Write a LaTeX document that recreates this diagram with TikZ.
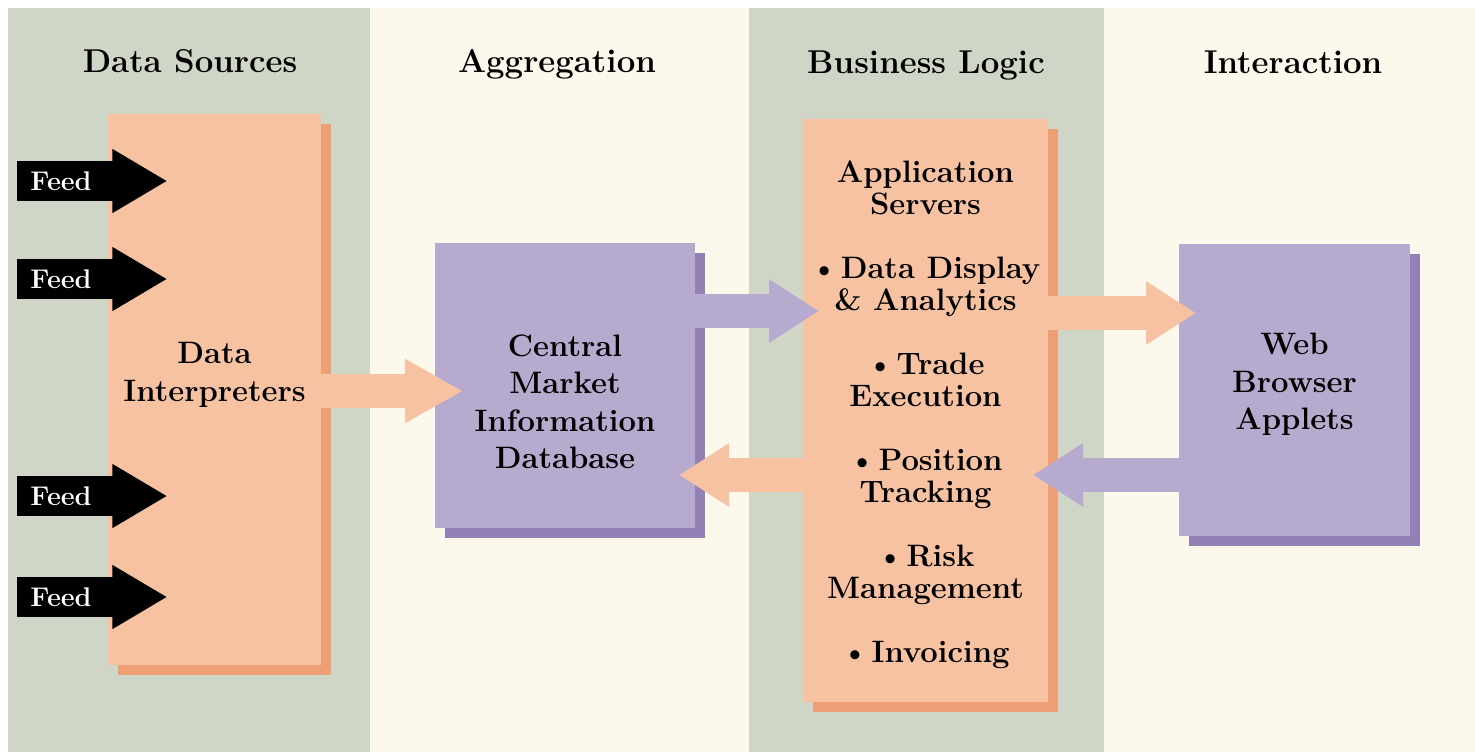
\documentclass[tikz,border=0pt]{standalone}
\usepackage{tikz}
\usetikzlibrary{positioning,calc,shadows}
\usetikzlibrary{arrows.meta}
\definecolor{Sage}{RGB}{207,213,199}
\definecolor{Cream}{RGB}{252,248,236}
\definecolor{Peach}{RGB}{247,194,161}
\definecolor{PeachDark}{RGB}{238,159,118}
\definecolor{Lilac}{RGB}{182,170,206}
\definecolor{LilacDark}{RGB}{147,129,182}
\newcommand\appitem{\textbullet\hspace{1.5pt}}
\tikzset{
	tier/.style={font=\fontsize{16.5}{20}\selectfont\bfseries,anchor=base},
	box/.style={inner sep=0pt,outer sep=0pt,fill=#1,
		drop shadow={shadow xshift=5pt,shadow yshift=-5pt,opacity=1,fill=#1Dark}},
	boxtext/.style={font=\fontsize{15.5}{18.75}\selectfont\bfseries,align=center,
		anchor=north,inner sep=0pt},
	feedtag/.style={fill=black,text=white,inner sep=0pt,minimum width=44pt,
		minimum height=20pt,font=\fontsize{13.5}{16}\selectfont\bfseries},
	feedhead/.style={draw=black,line width=20pt,-{Triangle[length=27.5pt,width=30pt]}},
	flow/.style={draw=#1,line width=17pt,-{Triangle[length=25pt,width=30pt]},shorten >=-8pt},
}

\begin{document}
\begin{tikzpicture}[x=0.5pt,y=-0.5pt]
	\useasboundingbox (0,0) rectangle (1475,752);
	% four tiers
	\foreach \xa/\xb/\c in {8/370/Sage,370/749/Cream,749/1104/Sage,1104/1475/Cream}
	\fill[\c] (\xa,8) rectangle (\xb,752);
	\node[tier] (tsrc) at (190,72) {Data Sources};
	\node[tier] (tagg) at (557,72) {Aggregation};
	\node[tier] (tbiz) at (926,73) {Business Logic};
	\node[tier] (tint) at (1293,73) {Interaction};

	% boxes
	\node[box=Peach,minimum width=106.5pt,minimum height=275.5pt] (di) at (214.5,389.5) {};
	\node[box=Lilac,minimum width=130pt,minimum height=142.5pt] (cmid) at (565,385.5) {};
	\node[box=Peach,minimum width=122.5pt,minimum height=291.5pt] (app) at (925.5,410.5) {};
	\node[box=Lilac,minimum width=115.5pt,minimum height=146pt] (web) at (1294.5,390) {};

	% incoming feeds
	\foreach \i/\y in {1/181,2/279,3/496,4/597}{
		\node[feedtag] (feed\i) at (61,\y) {Feed};
		\draw[feedhead] ([xshift=-2pt]feed\i.east) -- ++(66,0);
	}

	% flows between tiers
	\draw[flow=Peach,-{Triangle[length=29pt,width=30pt]},shorten >=-14pt] (di.east |- 0,391) -- (cmid.west |- 0,391);
	\draw[flow=Lilac] (cmid.east |- 0,311) -- (app.west |- 0,311);
	\draw[flow=Peach] (app.west |- 0,475) -- (cmid.east |- 0,475);
	\draw[flow=Peach,shorten >=-8.5pt] (app.east |- 0,313) -- (web.west |- 0,313);
	\draw[flow=Lilac,shorten >=-7.5pt] (web.west |- 0,475) -- (app.east |- 0,475);

	\node[boxtext] (ditext) at (214.5,342) {Data\\Interpreters};
	\node[boxtext] (cmidtext) at (565,334) {Central\\Market\\Information\\Database};
	\node[boxtext] (webtext) at (1294.5,333) {Web\\Browser\\Applets};
	\node[boxtext,font=\fontsize{15.5}{16}\selectfont\bfseries] (apptext) at (925.5,160)
		{Application\\Servers\\[16pt]
		\appitem Data Display\\\& Analytics\\[16pt]
		\appitem Trade\\Execution\\[16pt]
		\appitem Position\\Tracking\\[16pt]
		\appitem Risk\\Management\\[16pt]
		\appitem Invoicing};
\end{tikzpicture}
\end{document}
